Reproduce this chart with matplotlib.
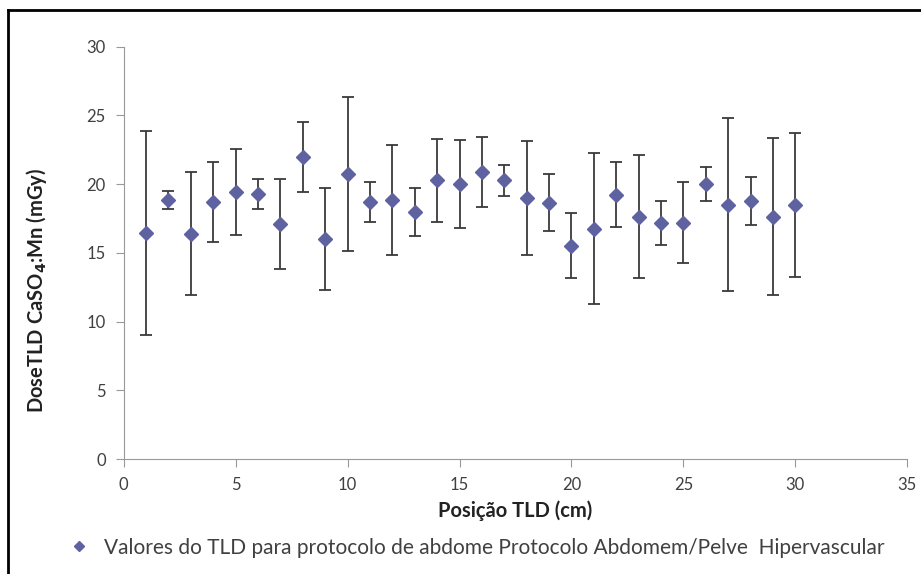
import numpy as np
import matplotlib
matplotlib.use("Agg")
import matplotlib.pyplot as plt
from matplotlib.lines import Line2D

# posição do TLD (cm), dose média e desvio
posicao = np.arange(1, 31)
dose = [16.45, 18.87, 16.40, 18.70, 19.43, 19.29, 17.10, 22.00, 15.99, 20.74,
        18.70, 18.87, 17.98, 20.28, 20.04, 20.89, 20.28, 18.97, 18.66, 15.53,
        16.76, 19.24, 17.64, 17.20, 17.20, 19.99, 18.51, 18.78, 17.64, 18.46]
erro = [7.40, 0.65, 4.46, 2.90, 3.10, 1.10, 3.25, 2.55, 3.70, 5.60,
        1.45, 4.00, 1.75, 3.00, 3.20, 2.55, 1.15, 4.15, 2.05, 2.35,
        5.50, 2.35, 4.50, 1.60, 2.95, 1.25, 6.30, 1.75, 5.70, 5.25]

x_ticks = [0, 5, 10, 15, 20, 25, 30, 35]
y_ticks = [0, 5, 10, 15, 20, 25, 30]
legenda = "Valores do TLD para protocolo de abdome Protocolo Abdomem/Pelve  Hipervascular"

plt.rcParams['font.family'] = ['Lato', 'DejaVu Sans']
cor_marker = '#5f62a0'
cor_texto = '#404040'

fig = plt.figure(figsize=(9.21, 5.74), dpi=100)
ax = fig.add_axes([0.1343, 0.2003, 0.8508, 0.7183])

ax.errorbar(posicao, dose, yerr=erro, fmt='D', color=cor_marker, markersize=6.8,
            ecolor='#3a3a3a', elinewidth=1.3, capsize=4, capthick=1.3,
            label=legenda, zorder=3)

ax.set_xlim(0, 35)
ax.set_ylim(0, 30)
ax.set_xticks(x_ticks)
ax.set_yticks(y_ticks)
ax.tick_params(direction='out', length=6, color='#999999', labelcolor=cor_texto,
               labelsize=12, pad=7)
for s in ['top', 'right']:
    ax.spines[s].set_visible(False)
for s in ['left', 'bottom']:
    ax.spines[s].set_color('#999999')

ax.set_xlabel('Posição TLD (cm)', fontsize=14.5, fontweight='bold', color='#222222', labelpad=5)
ax.set_ylabel('DoseTLD CaSO$_\\mathbf{4}$:Mn (mGy)', fontsize=14.5, fontweight='bold',
              color='#222222')
ax.yaxis.set_label_coords(-0.095, 0.41)

fig.legend(loc='center', bbox_to_anchor=(0.512, 0.046), frameon=False,
           fontsize=15, labelcolor=cor_texto, handletextpad=0.2,
           handles=[Line2D([], [], marker='D', color=cor_marker, linestyle='none',
                           markersize=5)],
           labels=[legenda])

# moldura (somente esquerda e topo visíveis)
fig.add_artist(Line2D([8 / 921, 8 / 921], [0, 1 - 10 / 574], transform=fig.transFigure,
                      color='black', linewidth=2))
fig.add_artist(Line2D([8 / 921, 1], [1 - 10 / 574, 1 - 10 / 574], transform=fig.transFigure,
                      color='black', linewidth=2))

fig.savefig('out.png', dpi=100)
